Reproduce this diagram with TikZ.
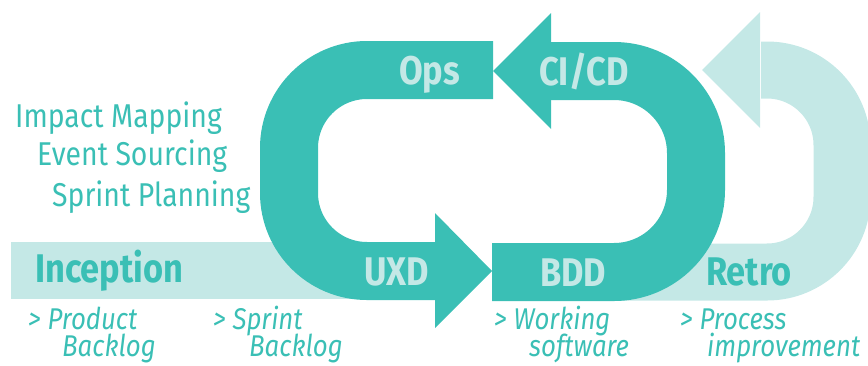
\documentclass[tikz,border=0pt]{standalone}
\usepackage{fontspec}
\setmainfont{Fira Sans}[FakeStretch=0.86]
\definecolor{tealc}{HTML}{3ABFB5}
\definecolor{lightc}{HTML}{C4E8E6}
\begin{document}
\begin{tikzpicture}[x=1pt,y=-1pt,
  lband/.style={line width=57pt,draw=lightc},
  tband/.style={draw=tealc,line width=58pt},
  plain/.style={text=tealc,inner sep=0pt,anchor=base west,font=\fontsize{33}{38}\selectfont},
  bigt/.style={text=tealc,inner sep=0pt,anchor=base west,font=\fontsize{40}{44}\selectfont\bfseries},
  bigl/.style={text=lightc,inner sep=0pt,anchor=base west,font=\fontsize{40}{44}\selectfont\bfseries},
  sub/.style={text=tealc,inner sep=0pt,anchor=base west,font=\fontsize{30}{33}\selectfont\itshape}]
\useasboundingbox (0,0) rectangle (868,365);
% light band and retro loop
\coordinate (li0) at (11,270.5);
\coordinate (li1) at (420,270.5);
\coordinate (lr0) at (600,272);
\coordinate (lr1) at (842,272);
\coordinate (lr2) at (842,70);
\coordinate (lr3) at (761,70);
\draw[lband] (li0) -- (li1);
\draw[lband,rounded corners=75pt] (lr0) -- (lr1) -- (lr2) -- (lr3);
\fill[lightc] (760,12) coordinate (la1) -- (702,70) coordinate (latip) -- (760,128) coordinate (la2) -- cycle;
% teal left loop (Ops -> UXD)
\coordinate (t0) at (493,70);
\coordinate (t1) at (289,70);
\coordinate (t2) at (289,271);
\coordinate (t3) at (436,271);
\draw[tband,rounded corners=78pt] (t0) -- (t1) -- (t2) -- (t3);
\fill[tealc] (435,213) coordinate (ua1) -- (492,271) coordinate (utip) -- (435,328) coordinate (ua2) -- cycle;
% teal right loop (CI/CD -> BDD)
\coordinate (r0) at (550,71);
\coordinate (r1) at (696,71);
\coordinate (r2) at (696,272);
\coordinate (r3) at (492,272);
\draw[tband,rounded corners=82pt] (r0) -- (r1) -- (r2) -- (r3);
\fill[tealc] (551,13) coordinate (ca1) -- (493,71) coordinate (ctip) -- (551,129) coordinate (ca2) -- cycle;
% labels
\node[plain] (im) at (15,127) {Impact Mapping};
\node[plain] (es) at (37,165) {Event Sourcing};
\node[plain] (sp) at (52,206) {Sprint Planning};
\node[bigt] (inc) at (35,282) {Inception};
\node[bigl] (ops) at (399,84) {Ops};
\node[bigl] (cicd) at (539,85) {CI/CD};
\node[bigl] (uxd) at (364,285) {UXD};
\node[bigl] (bdd) at (540,286) {BDD};
\node[bigt] (retro) at (706,285) {Retro};
\node[sub] (pb1) at (28,329) {> Product};
\node[sub] (pb2) at (62,356) {Backlog};
\node[sub] (sb1) at (213,329) {> Sprint};
\node[sub] (sb2) at (249,356) {Backlog};
\node[sub] (ws1) at (494,329) {> Working};
\node[sub] (ws2) at (529,356) {software};
\node[sub] (pi1) at (680,329) {> Process};
\node[sub] (pi2) at (707,356) {improvement};
\end{tikzpicture}
\end{document}
